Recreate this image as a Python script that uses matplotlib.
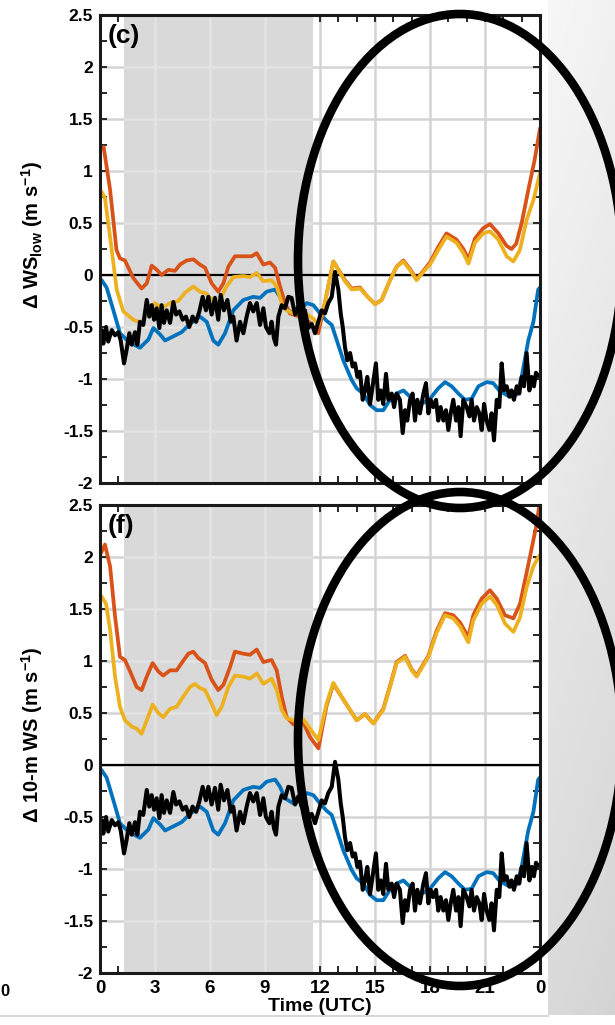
import numpy as np
import matplotlib.pyplot as plt
from matplotlib.patches import Ellipse

plt.rcParams["font.family"] = ["Liberation Sans", "DejaVu Sans"]
plt.rcParams["font.weight"] = "bold"
plt.rcParams["axes.unicode_minus"] = False
plt.rcParams["mathtext.fontset"] = "custom"
plt.rcParams["mathtext.rm"] = "Liberation Sans:bold"
plt.rcParams["mathtext.it"] = "Liberation Sans:bold"
plt.rcParams["mathtext.bf"] = "Liberation Sans:bold"

# =========================================================
# Data
# =========================================================

# blue run, shared by both panels
blue_t = [0.0, 0.09, 0.36, 0.73, 1.09, 1.55, 2.18, 2.64, 2.91, 3.27, 3.55, 4.0, 4.45,
          4.91, 5.45, 5.82, 6.18, 6.45, 6.82, 7.27, 7.82, 8.36, 8.73, 9.09, 9.55, 9.82,
          10.09, 10.55, 10.9, 11.27, 11.64, 12.0, 12.36, 12.64, 12.9, 13.27, 13.73, 14.0,
          14.36, 14.73, 15.09, 15.45, 15.82, 16.18, 16.55, 16.91, 17.27, 17.64, 18.0,
          18.45, 18.82, 19.18, 19.55, 19.91, 20.27, 20.64, 21.09, 21.45, 21.82, 22.36,
          22.73, 23.0, 23.36, 23.64, 23.9, 24.0]
blue_v = [-0.04, -0.05, -0.12, -0.34, -0.56, -0.64, -0.70, -0.62, -0.51, -0.57, -0.63,
          -0.59, -0.55, -0.47, -0.40, -0.45, -0.63, -0.67, -0.56, -0.34, -0.24, -0.21,
          -0.22, -0.16, -0.14, -0.21, -0.32, -0.37, -0.34, -0.27, -0.29, -0.37, -0.44,
          -0.48, -0.62, -0.82, -1.01, -1.09, -1.14, -1.25, -1.30, -1.30, -1.20, -1.14,
          -1.11, -1.17, -1.23, -1.23, -1.19, -1.09, -1.03, -1.07, -1.14, -1.20, -1.19,
          -1.07, -1.03, -1.04, -1.12, -1.17, -1.15, -0.98, -0.63, -0.45, -0.14, -0.12]

# black (observed) run, shared by both panels
black_t = [0.0, 0.09, 0.18, 0.33, 0.45, 0.64, 0.82, 1.0, 1.13, 1.31, 1.45, 1.6, 1.73,
           1.91, 2.04, 2.18, 2.36, 2.55, 2.69, 2.82, 2.95, 3.09, 3.24, 3.36, 3.49, 3.64,
           3.82, 4.0, 4.15, 4.33, 4.51, 4.69, 4.87, 5.05, 5.24, 5.42, 5.6, 5.78, 5.91,
           6.09, 6.27, 6.45, 6.58, 6.76, 6.95, 7.13, 7.27, 7.45, 7.64, 7.82, 8.0, 8.18,
           8.36, 8.55, 8.73, 8.91, 9.05, 9.24, 9.36, 9.49, 9.6, 9.73, 9.91, 10.09, 10.27,
           10.45, 10.64, 10.82, 11.0, 11.18, 11.36, 11.55, 11.73, 11.91, 12.09, 12.27,
           12.45, 12.64, 12.82, 13.0, 13.13, 13.24, 13.36, 13.49, 13.64, 13.78, 13.91,
           14.04, 14.18, 14.33, 14.45, 14.58, 14.73, 14.87, 15.05, 15.18, 15.31, 15.45,
           15.6, 15.73, 15.91, 16.04, 16.18, 16.36, 16.51, 16.64, 16.76, 16.91, 17.05,
           17.18, 17.31, 17.45, 17.64, 17.78, 17.91, 18.04, 18.18, 18.33, 18.45, 18.58,
           18.73, 18.87, 19.0, 19.13, 19.27, 19.42, 19.55, 19.67, 19.82, 20.0, 20.15,
           20.27, 20.4, 20.55, 20.69, 20.82, 20.95, 21.09, 21.24, 21.36, 21.49, 21.64,
           21.78, 21.91, 22.04, 22.18, 22.33, 22.45, 22.58, 22.73, 22.87, 23.0, 23.13,
           23.27, 23.42, 23.55, 23.67, 23.78, 23.91]
black_v = [-0.55, -0.53, -0.66, -0.50, -0.64, -0.53, -0.58, -0.55, -0.63, -0.85, -0.72,
           -0.56, -0.67, -0.55, -0.67, -0.45, -0.48, -0.24, -0.40, -0.29, -0.43, -0.32,
           -0.51, -0.29, -0.46, -0.34, -0.46, -0.26, -0.38, -0.35, -0.43, -0.40, -0.50,
           -0.40, -0.45, -0.35, -0.21, -0.34, -0.21, -0.38, -0.22, -0.43, -0.19, -0.34,
           -0.24, -0.45, -0.40, -0.63, -0.45, -0.56, -0.40, -0.27, -0.35, -0.27, -0.48,
           -0.32, -0.50, -0.56, -0.45, -0.61, -0.67, -0.40, -0.29, -0.32, -0.21, -0.22,
           -0.38, -0.30, -0.40, -0.34, -0.51, -0.47, -0.56, -0.45, -0.34, -0.37, -0.27,
           -0.21, 0.03, -0.14, -0.37, -0.50, -0.69, -0.82, -0.75, -0.88, -0.85, -0.98,
           -0.93, -1.20, -1.11, -0.98, -1.24, -1.07, -0.85, -1.20, -1.11, -1.24, -0.95,
           -1.20, -1.14, -1.27, -1.14, -1.20, -1.52, -1.30, -1.40, -1.20, -1.14, -1.40,
           -1.20, -1.33, -1.14, -1.04, -1.33, -1.20, -1.27, -1.20, -1.40, -1.27, -1.40,
           -1.30, -1.49, -1.33, -1.20, -1.40, -1.27, -1.55, -1.20, -1.27, -1.36, -1.20,
           -1.40, -1.27, -1.33, -1.49, -1.24, -1.40, -1.49, -1.33, -1.59, -1.20, -1.27,
           -0.85, -1.11, -1.07, -1.17, -1.11, -1.20, -1.07, -1.14, -0.98, -1.07, -0.75,
           -1.11, -0.98, -1.07, -0.94, -0.97]

# panel (c): WS_low
c_orange_t = [0.0, 0.2, 0.55, 0.9, 1.09, 1.36, 1.82, 2.27, 2.55, 2.82, 3.1, 3.36, 3.73,
              4.09, 4.36, 4.73, 5.1, 5.45, 5.73, 6.09, 6.45, 6.73, 7.0, 7.36, 7.9, 8.27,
              8.55, 8.91, 9.27, 9.55, 9.82, 10.09, 10.36, 10.9, 11.4, 11.9, 12.18, 12.73,
              13.36, 13.73, 14.18, 14.55, 15.0, 15.36, 15.82, 16.18, 16.55, 16.9, 17.27,
              17.64, 18.0, 18.45, 18.9, 19.45, 19.82, 20.1, 20.45, 20.9, 21.27, 21.73,
              22.18, 22.45, 22.7, 23.0, 23.4, 23.7, 24.0]
c_orange_v = [1.20, 1.23, 0.82, 0.24, 0.16, 0.14, -0.03, -0.13, -0.08, 0.09, 0.05, 0.0,
              0.05, 0.04, 0.10, 0.14, 0.15, 0.10, 0.07, -0.08, -0.16, -0.08, 0.08, 0.18,
              0.18, 0.18, 0.21, 0.10, 0.12, 0.07, -0.11, -0.27, -0.37, -0.40, -0.45, -0.56,
              -0.34, 0.13, -0.05, -0.13, -0.12, -0.20, -0.28, -0.24, -0.05, 0.08, 0.14,
              0.06, -0.04, 0.04, 0.12, 0.27, 0.40, 0.34, 0.25, 0.15, 0.35, 0.45, 0.49,
              0.40, 0.28, 0.25, 0.30, 0.50, 0.85, 1.10, 1.41]
c_yellow_t = [0.0, 0.09, 0.27, 0.64, 0.91, 1.27, 1.82, 2.27, 2.64, 3.0, 3.36, 3.82, 4.27,
              4.64, 5.09, 5.45, 5.82, 6.0, 6.45, 6.9, 7.27, 7.82, 8.18, 8.55, 8.91, 9.36,
              9.64, 9.91, 10.18, 10.55, 11.1, 11.64, 11.9, 12.18, 12.73, 13.36, 13.73,
              14.18, 14.55, 15.0, 15.36, 15.82, 16.18, 16.55, 16.9, 17.27, 17.64, 18.0,
              18.45, 18.9, 19.45, 19.82, 20.1, 20.45, 20.9, 21.27, 21.73, 22.18, 22.55,
              22.9, 23.27, 23.64, 24.0]
c_yellow_v = [0.78, 0.80, 0.74, 0.24, -0.14, -0.35, -0.43, -0.46, -0.35, -0.27, -0.32,
              -0.27, -0.25, -0.17, -0.11, -0.16, -0.18, -0.22, -0.27, -0.11, -0.02, -0.01,
              -0.02, 0.02, -0.06, -0.05, -0.11, -0.27, -0.34, -0.37, -0.36, -0.42, -0.48,
              -0.34, 0.13, -0.06, -0.14, -0.13, -0.20, -0.28, -0.24, -0.05, 0.08, 0.13,
              0.05, -0.05, 0.03, 0.10, 0.24, 0.37, 0.31, 0.21, 0.11, 0.31, 0.40, 0.42,
              0.34, 0.18, 0.13, 0.24, 0.53, 0.72, 0.98]

# panel (f): 10-m WS
f_orange_t = [0.0, 0.09, 0.27, 0.55, 0.82, 1.09, 1.36, 1.64, 2.0, 2.27, 2.55, 2.87, 3.18,
              3.45, 3.82, 4.18, 4.45, 4.82, 5.09, 5.36, 5.73, 6.09, 6.45, 6.73, 7.09, 7.36,
              7.82, 8.18, 8.55, 8.91, 9.36, 9.64, 9.91, 10.18, 10.55, 11.09, 11.45, 11.91,
              12.36, 12.73, 13.27, 14.0, 14.45, 14.91, 15.45, 15.82, 16.18, 16.64, 17.0,
              17.27, 17.64, 17.91, 18.36, 18.82, 19.27, 19.64, 20.09, 20.36, 20.82, 21.27,
              21.64, 22.09, 22.55, 22.91, 23.45, 23.82, 24.0]
f_orange_v = [2.02, 2.05, 2.12, 1.91, 1.43, 1.04, 1.01, 0.90, 0.75, 0.72, 0.85, 0.98, 0.90,
              0.86, 0.91, 0.91, 0.98, 1.07, 1.09, 1.03, 0.98, 0.82, 0.72, 0.77, 0.94, 1.09,
              1.07, 1.06, 1.11, 0.99, 1.01, 0.91, 0.66, 0.46, 0.39, 0.41, 0.27, 0.16, 0.57,
              0.78, 0.63, 0.43, 0.49, 0.40, 0.54, 0.76, 0.99, 1.05, 0.92, 0.86, 0.97, 1.05,
              1.29, 1.46, 1.44, 1.37, 1.23, 1.44, 1.60, 1.68, 1.60, 1.44, 1.41, 1.55, 2.00,
              2.32, 2.55]
f_yellow_t = [0.0, 0.09, 0.33, 0.55, 0.82, 1.09, 1.36, 1.73, 2.0, 2.27, 2.55, 2.87, 3.18,
              3.45, 3.82, 4.18, 4.55, 4.91, 5.18, 5.45, 5.73, 6.09, 6.36, 6.64, 7.0, 7.36,
              7.82, 8.18, 8.55, 8.91, 9.36, 9.64, 9.91, 10.18, 10.55, 11.09, 11.45, 11.91,
              12.36, 12.73, 13.27, 14.0, 14.45, 14.91, 15.45, 15.82, 16.18, 16.64, 17.0,
              17.27, 17.64, 17.91, 18.36, 18.82, 19.27, 19.64, 20.09, 20.36, 20.82, 21.27,
              21.64, 22.09, 22.55, 22.91, 23.27, 23.64, 23.91, 24.0]
f_yellow_v = [1.60, 1.62, 1.55, 1.30, 0.85, 0.56, 0.43, 0.37, 0.35, 0.30, 0.43, 0.58, 0.50,
              0.46, 0.54, 0.56, 0.66, 0.75, 0.78, 0.74, 0.72, 0.59, 0.48, 0.56, 0.75, 0.86,
              0.85, 0.83, 0.88, 0.78, 0.83, 0.72, 0.53, 0.45, 0.43, 0.44, 0.35, 0.24, 0.59,
              0.79, 0.63, 0.43, 0.49, 0.40, 0.53, 0.75, 0.98, 1.04, 0.91, 0.85, 0.96, 1.04,
              1.27, 1.44, 1.41, 1.33, 1.18, 1.39, 1.55, 1.62, 1.54, 1.36, 1.28, 1.42, 1.71,
              1.91, 2.00, 2.02]

panel_labels = ["(c)", "(f)"]
y_labels = [r"$\Delta$ WS$_{\mathrm{low}}$ (m s$^{\mathrm{-1}}$)",
            r"$\Delta$ 10-m WS (m s$^{\mathrm{-1}}$)"]
x_ticks = list(range(0, 25, 3))
x_tick_labels = ["0", "3", "6", "9", "12", "15", "18", "21", "0"]
y_ticks = [-2, -1.5, -1, -0.5, 0, 0.5, 1, 1.5, 2, 2.5]
y_tick_labels = ["-2", "-1.5", "-1", "-0.5", "0", "0.5", "1", "1.5", "2", "2.5"]
night = (1.3, 11.6)

BLUE = "#0072BD"
ORANGE = "#D95319"
YELLOW = "#EDB120"
GRID = "#d4d4d4"
SHADE = "#d9d9d9"

W, H = 615, 1025


def draw_panel(ax, orange, yellow, label, ylabel, ylabel_y, show_x):
    ax.set_xlim(0, 24)
    ax.set_ylim(-2, 2.5)

    ax.set_axisbelow(True)
    ax.grid(True, color=GRID, linewidth=1.8)
    shade = ax.axvspan(*night, color=SHADE, lw=0, zorder=0.8)
    # gridlines look lighter inside the shaded band
    for xv in x_ticks:
        ax.axvline(xv, color="#e3e3e3", lw=1.8, zorder=0.9).set_clip_path(shade)
    for yv in y_ticks:
        ax.axhline(yv, color="#e3e3e3", lw=1.8, zorder=0.9).set_clip_path(shade)

    ax.axhline(0, color="black", lw=1.6, zorder=1.5)

    kw = dict(solid_joinstyle="round", solid_capstyle="round")
    ax.plot(blue_t, blue_v, color=BLUE, lw=2.7, zorder=2, **kw)
    ax.plot(*orange, color=ORANGE, lw=2.7, zorder=2.1, **kw)
    ax.plot(*yellow, color=YELLOW, lw=2.7, zorder=2.2, **kw)
    ax.plot(black_t, black_v, color="black", lw=2.9, zorder=2.3, **kw)

    ax.set_xticks(x_ticks)
    ax.set_xticks(np.arange(0, 25, 1), minor=True)
    ax.set_yticks(y_ticks)
    ax.set_yticks(np.arange(-2, 2.51, 0.25), minor=True)
    ax.set_yticklabels(y_tick_labels, fontsize=12.5, fontweight="bold")
    if show_x:
        ax.set_xticklabels(x_tick_labels, fontsize=13.5, fontweight="bold")
        ax.set_xlabel("Time (UTC)", fontsize=14, fontweight="bold", labelpad=1)
    else:
        ax.set_xticklabels([])

    ax.tick_params(which="both", direction="in", top=True, right=True,
                   length=5, width=1.4, color="#262626", pad=5)
    ax.tick_params(axis="x", pad=5)
    for sp in ax.spines.values():
        sp.set_linewidth(2.2)
        sp.set_color("#1a1a1a")
        sp.set_zorder(5)

    ax.set_ylabel(ylabel, fontsize=14.5, fontweight="bold")
    ax.yaxis.set_label_coords(-0.125, ylabel_y)
    ax.text(0.018, 0.98, label, transform=ax.transAxes, fontsize=19,
            fontweight="bold", va="top", ha="left", zorder=6)


fig = plt.figure(figsize=(W / 100, H / 100), dpi=100)

# slide background: grey gradient strip on the right, rule at the bottom
bg = fig.add_axes([0, 0, 1, 1], zorder=0)
bg.set_xlim(0, W)
bg.set_ylim(H, 0)
bg.axis("off")
grad = np.linspace(0.965, 0.85, 256)[:, None] * np.ones((1, 8))
grad = grad - np.linspace(0.0, 0.02, 8)[None, :]
bg.imshow(grad, cmap="gray", vmin=0, vmax=1, extent=(548, W, 1015, 0),
          aspect="auto", interpolation="bilinear")
bg.plot([0, 548], [1016, 1016], color="#cfcfcf", lw=1.2)
bg.text(0, 991, "0", fontsize=12, fontweight="bold", va="center", ha="left")

ax_c = fig.add_axes([100 / W, 1 - 483 / H, 440 / W, 468 / H], zorder=1)
ax_f = fig.add_axes([100 / W, 1 - 973 / H, 440 / W, 468 / H], zorder=1)
draw_panel(ax_c, (c_orange_t, c_orange_v), (c_yellow_t, c_yellow_v),
           panel_labels[0], y_labels[0], 0.53, False)
draw_panel(ax_f, (f_orange_t, f_orange_v), (f_yellow_t, f_yellow_v),
           panel_labels[1], y_labels[1], 0.51, True)

# hand-drawn highlight ellipses on top of everything
ov = fig.add_axes([0, 0, 1, 1], zorder=10)
ov.set_xlim(0, W)
ov.set_ylim(H, 0)
ov.axis("off")
ov.patch.set_alpha(0)
for cy in (261, 739):
    ov.add_patch(Ellipse((460, cy), 324, 494, fill=False, lw=6.2, color="black"))

fig.savefig("out.png", dpi=100)
